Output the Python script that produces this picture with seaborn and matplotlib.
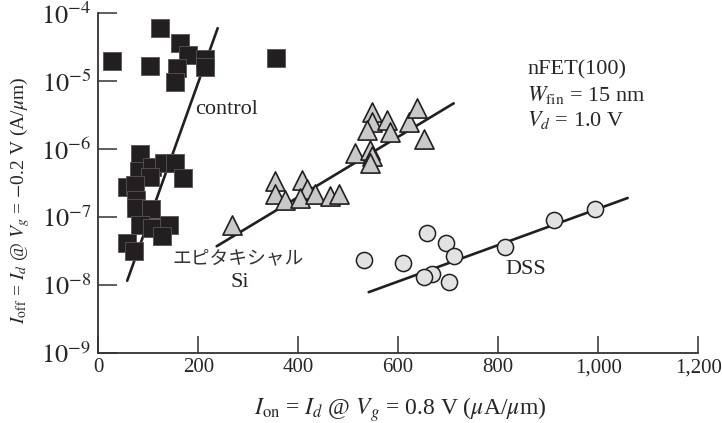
import numpy as np
import pandas as pd
import seaborn as sns
import matplotlib.pyplot as plt
from matplotlib.ticker import FuncFormatter, NullLocator, FixedLocator

# --- data ---
ctrl_x = [27, 123, 104, 164, 179, 157, 153, 214, 214, 356,
          83, 81, 107, 131, 154, 104, 169, 57, 74, 75, 75, 106, 84, 107, 142, 127, 57, 71]
ctrl_y = [2.0e-5, 6.0e-5, 1.66e-5, 3.6e-5, 2.4e-5, 1.55e-5, 9.8e-6, 2.1e-5, 1.6e-5, 2.2e-5,
          8.4e-7, 4.8e-7, 5.5e-7, 6.2e-7, 6.2e-7, 3.9e-7, 3.7e-7, 2.75e-7, 3.0e-7, 1.8e-7,
          1.35e-7, 1.3e-7, 7.6e-8, 6.8e-8, 7.6e-8, 5.2e-8, 4.1e-8, 3.2e-8]

epi_x = [267, 354, 354, 374, 407, 417, 404, 434, 464, 481, 514, 544, 547, 544,
         547, 547, 537, 577, 584, 621, 637, 651]
epi_y = [7.5e-8, 3.4e-7, 2.2e-7, 1.8e-7, 3.5e-7, 2.6e-7, 1.9e-7, 2.2e-7, 2.0e-7, 2.2e-7,
         8.7e-7, 9.8e-7, 7.8e-7, 6.3e-7, 3.5e-6, 2.5e-6, 1.9e-6, 2.7e-6, 1.8e-6, 2.5e-6,
         4.0e-6, 1.4e-6]

dss_x = [531, 609, 657, 696, 712, 667, 652, 701, 814, 911, 994]
dss_y = [2.3e-8, 2.1e-8, 5.7e-8, 4.1e-8, 2.7e-8, 1.45e-8, 1.3e-8, 1.1e-8, 3.6e-8, 8.9e-8, 1.3e-7]

# fitted trend lines (end points)
ctrl_fit_x = [58, 239]
ctrl_fit_y = [1.15e-8, 6.0e-5]
epi_fit_x = [237, 711]
epi_fit_y = [3.7e-8, 4.7e-6]
dss_fit_x = [541, 1059]
dss_fit_y = [7.8e-9, 1.9e-7]

x_ticks = [0, 200, 400, 600, 800, 1000, 1200]
y_ticks = [1e-9, 1e-8, 1e-7, 1e-6, 1e-5, 1e-4]

sns.set_style("ticks")
plt.rcParams["font.family"] = ["Liberation Serif", "Noto Sans CJK JP"]
plt.rcParams["mathtext.fontset"] = "stix"

ink = "#231f20"

fig = plt.figure(figsize=(7.22, 4.23), dpi=100)
ax = fig.add_axes([0.136, 0.166, 0.831, 0.803])

# fit lines
for fx, fy in [(ctrl_fit_x, ctrl_fit_y), (epi_fit_x, epi_fit_y), (dss_fit_x, dss_fit_y)]:
    sns.lineplot(x=fx, y=fy, ax=ax, color=ink, linewidth=1.9, zorder=1)

# points
sns.scatterplot(x=ctrl_x, y=ctrl_y, ax=ax, marker="s", s=150, color=ink,
                edgecolor="#555555", linewidth=0.6, zorder=3)
sns.scatterplot(x=epi_x, y=epi_y, ax=ax, marker="^", s=190, color="#c9c9c9",
                edgecolor=ink, linewidth=1.2, zorder=3)
sns.scatterplot(x=dss_x, y=dss_y, ax=ax, marker="o", s=135, color="#e2e2e2",
                edgecolor=ink, linewidth=1.1, zorder=3)

ax.set_yscale("log")
ax.set_xlim(0, 1200)
ax.set_ylim(1e-9, 1e-4)
ax.xaxis.set_major_locator(FixedLocator(x_ticks))
ax.xaxis.set_major_formatter(FuncFormatter(lambda v, p: f"{int(v):,}"))
ax.yaxis.set_major_locator(FixedLocator(y_ticks))
ax.yaxis.set_minor_locator(NullLocator())
ax.yaxis.set_major_formatter(FuncFormatter(lambda v, p: r"$10^{%d}$" % round(np.log10(v))))

sns.despine(ax=ax)
for sp in ["left", "bottom"]:
    ax.spines[sp].set_color("#333333")
    ax.spines[sp].set_linewidth(1.3)
ax.tick_params(axis="y", direction="in", length=14, width=1.1, color="#333333",
               labelsize=19, pad=5)
ax.tick_params(axis="x", direction="in", length=12, width=1.1, color="#333333",
               labelsize=15, pad=4)

ax.set_xlabel(r"$I_{\mathrm{on}}$ = $I_d$ @ $V_g$ = 0.8 V ($\mu$A/$\mu$m)", fontsize=17)
ax.xaxis.set_label_coords(0.503, -0.125)
ax.set_ylabel(r"$I_{\mathrm{off}}$ = $I_d$ @ $V_g$ = $-$0.2 V (A/$\mu$m)", fontsize=14)
ax.yaxis.set_label_coords(-0.11, 0.45)

# annotations
ax.text(194, 3.75e-6, "control", fontsize=16, va="center", ha="left")
ax.text(280, 2.5e-8, "エピタキシャル", fontsize=13.5, va="center", ha="center",
        family=["Noto Sans CJK JP"], color="#333333")
ax.text(284, 1.1e-8, "Si", fontsize=16, va="center", ha="center")
ax.text(814, 1.66e-8, "DSS", fontsize=16, va="center", ha="left")
ax.text(858, 10**-4.84, "nFET(100)", fontsize=16, va="center", ha="left")
ax.text(858, 10**-5.21, r"$W_{\mathrm{fin}}$ = 15 nm", fontsize=16, va="center", ha="left")
ax.text(858, 10**-5.57, r"$V_d$ = 1.0 V", fontsize=16, va="center", ha="left")

fig.savefig("out.png", dpi=100)
